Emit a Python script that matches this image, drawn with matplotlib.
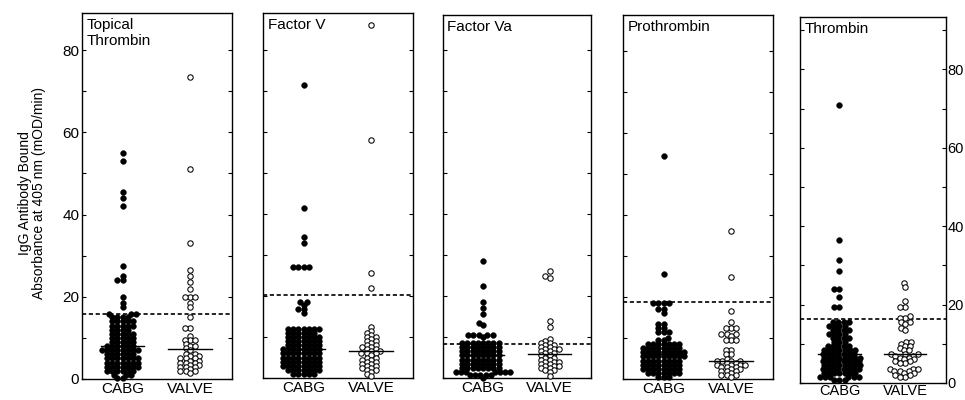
import numpy as np
import matplotlib
matplotlib.use('Agg')
import matplotlib.pyplot as plt

plt.rcParams['font.family'] = ['Liberation Sans', 'DejaVu Sans']

# ---- data (mOD/min) ----
panel_titles = ['Topical\nThrombin', 'Factor V', 'Factor Va', 'Prothrombin', 'Thrombin']
groups = ['CABG', 'VALVE']

def rows(spec):
    # spec: list of (value, count)
    out = []
    for v, n in spec:
        out += [v] * n
    return out

tt_cabg = [55, 53, 45.5, 44, 42, 27.5, 25, 24, 24, 20, 18.5, 17.5] + rows([
    (15.8, 3), (15, 4), (14, 5), (13, 5), (12, 4), (11, 5), (10, 5), (9, 5),
    (8, 6), (7, 8), (6, 6), (5, 7), (4, 7), (3, 7), (2, 6), (1, 3), (0.3, 2)])
tt_valve = [73.5, 51, 33, 26.5, 25, 23.5, 22, 20, 20, 20, 18.5, 17.5, 15, 12.5, 12.5,
            10.5, 9.5, 9.5, 9.5, 8.5, 8, 8, 7.5, 7, 6, 6, 5.5, 5.5, 5, 5, 5, 4.5, 4.5,
            4, 4, 4, 3.5, 3.5, 3, 3, 3, 2.5, 2, 2, 2, 1.5]

fv_cabg = [71.5, 41.5, 34.5, 33, 27, 27, 27, 27, 18.5, 18.5, 17.8, 16.8, 16.8, 15.8] + rows([
    (12, 7), (11, 6), (10, 7), (9, 7), (8, 7), (7, 8), (6, 8), (5, 8), (4, 8),
    (3, 8), (2, 7), (1, 5)])
fv_valve = [86, 58, 25.5, 22, 12.5, 11.5, 11, 10.5, 10, 10, 9.5, 9, 9, 8.5, 8, 8, 7.5,
            7.5, 7, 7, 6.5, 6.5, 6, 6, 6, 5.5, 5, 5, 4.5, 4.5, 4, 4, 3.5, 3.5, 3, 3,
            2.5, 2.5, 2, 2, 1.5, 1, 0.5]

fva_cabg = [28.5, 22.5, 18.5, 17, 15.5, 13.5, 13, 10.5, 10.5, 10.5, 10.5, 10.5, 10] + rows([
    (8.5, 8), (7.5, 8), (6.5, 8), (5.5, 8), (4.5, 8), (3.5, 8), (2.5, 8),
    (1.5, 7), (0.8, 5), (0, 1)])
fva_valve = [26, 25, 24.5, 14, 12.5, 9.5, 9, 8.5, 8.5, 8, 8, 7.5, 7.5, 7, 7, 7, 6.5,
             6.5, 6, 6, 5.5, 5.5, 5, 5, 4.5, 4.5, 4, 4, 4, 3.5, 3.5, 3, 3, 3, 2.5,
             2.5, 2, 2, 1.5, 0.5]

pt_cabg = [54.5, 25.5, 18.5, 18.5, 18.5, 18.5, 17, 17, 16, 13.5, 13.5, 12.5, 12.5,
           11.5, 11.5, 11.5, 10, 9.5, 9.5] + rows([
    (8.5, 7), (7.5, 8), (6.5, 9), (5.5, 9), (4.5, 8), (3.5, 8), (2.5, 8),
    (1.5, 7), (0.5, 3)])
pt_valve = [36, 25, 16.5, 14, 12.5, 12.5, 12.5, 11, 11, 11, 10.5, 9.5, 9.5, 9.5, 7,
            7, 6, 6, 5, 4.5, 4.5, 4.5, 4.5, 4, 4, 3.5, 3.5, 3.5, 3.5, 3, 3, 3, 2.5,
            2.5, 2, 2, 2, 1.5, 1, 1, 1, 0.5]

th_cabg = [71, 36.5, 31.5, 28.5, 24, 24, 22, 19.5, 19.5] + rows([
    (15.5, 4), (14.5, 4), (13.5, 4), (12.5, 4), (11.5, 4), (10.5, 3),
    (9.5, 5), (8.5, 7), (7.5, 7), (6.5, 8), (5.5, 8), (4.5, 8), (3.5, 8),
    (2.5, 7), (1.5, 6), (0.8, 3)])
th_valve = [25.5, 24.5, 21, 19.5, 19.5, 17, 16.5, 16.5, 15.5, 15.5, 15, 14, 13.5,
            10.5, 10.5, 10, 9.5, 9.5, 9, 8.5, 8.5, 7.5, 7.5, 7.5, 7, 7, 6.5, 6.5, 6,
            6, 5.5, 5.5, 5, 5, 3.5, 3.5, 3.5, 3, 3, 3, 2.5, 2.5, 2, 2, 1.5, 1.5]

cabg_sets = [tt_cabg, fv_cabg, fva_cabg, pt_cabg, th_cabg]
valve_sets = [tt_valve, fv_valve, fva_valve, pt_valve, th_valve]
cutoffs = [15.8, 20.2, 8.2, 18.8, 16.2]

# ---- layout (pixels of the 965x400 scan) ----
W, H = 965, 400
boxes = [(82, 232, 13, 379), (263, 413, 13, 378), (443, 591, 15, 378),
         (623, 773, 15, 379), (800, 946, 17, 383)]
px_per_unit = [4.11, 4.1, 4.1, 4.1, 3.92]
XLIM = (0.4, 2.62)
GAP = 5.2   # collision distance in px
KY = 1.3    # vertical stretch used for the collision test


def swarm(vals, ppu_y, ppu_x, d):
    ys = np.asarray(vals, float) * ppu_y * KY
    order = np.argsort(ys, kind='stable')
    placed = []
    xs = np.zeros(len(ys))
    for i in order:
        y = ys[i]
        cands = [0.0]
        for px, py in placed:
            dy = y - py
            if abs(dy) < d:
                dx = np.sqrt(d * d - dy * dy)
                cands += [px - dx, px + dx]
        cands.sort(key=abs)
        best = 0.0
        for c in cands:
            if all((c - px) ** 2 + (y - py) ** 2 >= d * d - 1e-6 for px, py in placed):
                best = c
                break
        xs[i] = best
        placed.append((best, y))
    return xs / ppu_x


fig = plt.figure(figsize=(W / 100, H / 100), dpi=100)
ms_fill = (5.8 * 72 / 100) ** 2
ms_open = (5.4 * 72 / 100) ** 2

for k in range(5):
    l, r, t, b = boxes[k]
    ax = fig.add_axes([l / W, 1 - b / H, (r - l) / W, (b - t) / H])
    ymax = (b - t) / px_per_unit[k]
    ax.set_xlim(*XLIM)
    ax.set_ylim(0, ymax)
    ppu_x = (r - l) / (XLIM[1] - XLIM[0])

    for gi, vals in enumerate([cabg_sets[k], valve_sets[k]]):
        xc = gi + 1
        xs = xc + swarm(vals, px_per_unit[k], ppu_x, GAP)
        if gi == 0:
            ax.scatter(xs, vals, s=ms_fill, c='black', edgecolors='black', linewidths=0.3,
                       zorder=3, clip_on=False)
        else:
            ax.scatter(xs, vals, s=ms_open, facecolors='white', edgecolors='black',
                       linewidths=0.75, zorder=3, clip_on=False)
        med = np.median(vals)
        ax.plot([xc - 0.32, xc + 0.32], [med, med], color='black', lw=1, zorder=4)

    ax.axhline(cutoffs[k], color='black', lw=1.2, ls=(0, (2.5, 1.6)), zorder=2)

    ax.text(0.03, 0.985, panel_titles[k], transform=ax.transAxes, ha='left', va='top',
            fontsize=11, linespacing=1.1)

    ax.set_xticks([1, 2])
    ax.set_xticklabels(groups, fontsize=11 if k < 4 else 10.5)
    ax.tick_params(axis='x', length=0, pad=2 if k < 4 else 0.5)

    ticks = np.arange(0, ymax, 10)
    ax.set_yticks(ticks)
    labels = [str(int(v)) if v % 20 == 0 else '' for v in ticks]
    ax.set_yticklabels(labels, fontsize=11 if k == 0 else 10.5)
    ax.tick_params(axis='y', direction='in', length=3, width=0.8, left=True, right=True,
                   pad=2 if k == 0 else 1, labelleft=(k == 0), labelright=(k == 4))
    for sp in ax.spines.values():
        sp.set_linewidth(1.0)

fig.text(32 / W, 1 - 193 / H, 'IgG Antibody Bound\nAbsorbance at 405 nm (mOD/min)',
         rotation=90, ha='center', va='center', fontsize=10, linespacing=1.05)

fig.savefig('out.png', dpi=100)
